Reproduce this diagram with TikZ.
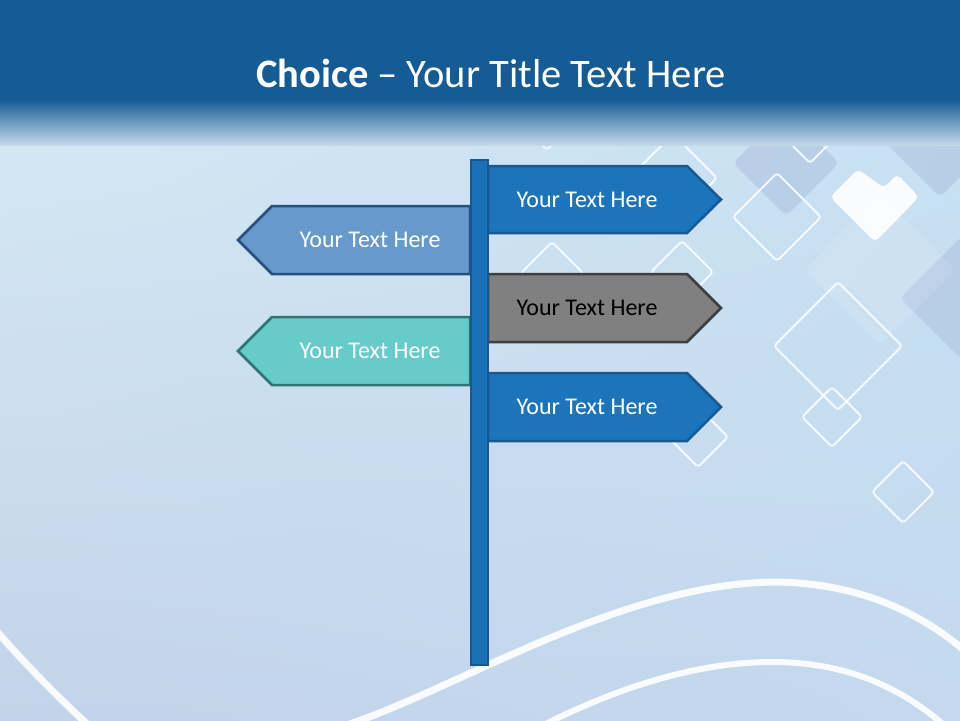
\documentclass[tikz,border=0pt]{standalone}
\usepackage{fontspec}
\setmainfont{Carlito}
\usetikzlibrary{shadings}

\definecolor{hdrblue}{HTML}{155C97}
\definecolor{hdrmid}{HTML}{5C8BBA}
\definecolor{hdrlow}{HTML}{C3D8E9}
\definecolor{bgul}{HTML}{D8ECF6}
\definecolor{bgur}{HTML}{C8E2F3}
\definecolor{bgll}{HTML}{C3D3E9}
\definecolor{bglr}{HTML}{C4D9EE}
\definecolor{tilegray}{HTML}{A7B9DA}
\definecolor{signblue}{HTML}{1C74BB}
\definecolor{signblueline}{HTML}{1A5890}
\definecolor{signlight}{HTML}{6699CC}
\definecolor{signlightline}{HTML}{23507D}
\definecolor{signteal}{HTML}{66CCCA}
\definecolor{signtealline}{HTML}{2D7472}
\definecolor{signgray}{HTML}{808080}
\definecolor{signgrayline}{HTML}{3E3E3E}
\definecolor{poleblue}{HTML}{1B70B8}
\definecolor{poleline}{HTML}{175792}

\begin{document}
\begin{tikzpicture}[x=1pt, y=-1pt,
    signtext/.style={font=\fontsize{24}{28}\selectfont, text=white, inner sep=0pt},
    bluesign/.style={fill=signblue, draw=signblueline, line width=2.5pt},
    lightsign/.style={fill=signlight, draw=signlightline, line width=2.5pt},
    tealsign/.style={fill=signteal, draw=signtealline, line width=2.5pt},
    graysign/.style={fill=signgray, draw=signgrayline, line width=2.5pt},
    tile/.style={draw=white, line width=1.8pt, rounded corners=3pt, opacity=0.85},
    filltile/.style={fill=tilegray, rounded corners=6pt, opacity=0.45},
    wave/.style={draw=white, line width=7pt, opacity=0.9}]

    \useasboundingbox (0,0) rectangle (960,720);

    % Background
    \shade[upper left=bgul, upper right=bgur, lower left=bgll, lower right=bglr] (0,0) rectangle (960,720);

    % Filled tiles
    \foreach \cx/\cy/\r in {786/163/53, 962/298/62, 940/130/67}
        \fill[filltile] (\cx-\r,\cy) -- (\cx,\cy-\r) -- (\cx+\r,\cy) -- (\cx,\cy+\r) -- cycle;
    \fill[white, opacity=0.1, rounded corners=6pt] (805,270) -- (880,195) -- (955,270) -- (880,345) -- cycle;
    \fill[white, opacity=0.9, rounded corners=5pt] (830,197) -- (858,169) -- (884,188) -- (897,174) -- (919,197) -- (875,242) -- cycle;

    % Outline tiles
    \foreach \cx/\cy/\r in {673/178/44, 777/217/44, 838/346/64, 832/417/30, 903/492/31,
                            698/437/30, 552/273/31, 682/272/31, 547/110/40, 810/120/43}
        \draw[tile] (\cx-\r,\cy) -- (\cx,\cy-\r) -- (\cx+\r,\cy) -- (\cx,\cy+\r) -- cycle;

    % Header
    \fill[hdrblue] (0,0) rectangle (960,100);
    \shade[top color=hdrblue, middle color=hdrmid, bottom color=hdrlow] (0,99.5) rectangle (960,145);
    \node[font=\fontsize{40.5}{48}\selectfont, text=white, inner sep=0pt] (title) at (491,73) {\textbf{Choice} -- Your Title Text Here};

    % Waves
    \draw[wave] (-30,600) .. controls (20,660) and (60,700) .. (110,745);
    \draw[wave] (330,730) .. controls (440,700) and (610,585) .. (772,582)
                          .. controls (860,582) and (930,615) .. (980,665);
    \draw[wave, line width=6pt] (480,760) .. controls (580,700) and (680,662) .. (772,662)
                          .. controls (850,662) and (910,690) .. (960,740);

    % Right signs
    \draw[bluesign] (488,166) -- (687,166) -- (721,199.5) -- (687,233) -- (488,233) -- cycle;
    \draw[graysign] (488,274) -- (687,274) -- (721,308) -- (687,342) -- (488,342) -- cycle;
    \draw[bluesign] (488,373) -- (687,373) -- (721,407) -- (687,441) -- (488,441) -- cycle;

    % Left signs
    \draw[lightsign] (470,206) -- (272,206) -- (238,240) -- (272,274) -- (470,274) -- cycle;
    \draw[tealsign] (470,317) -- (272,317) -- (238,351) -- (272,385) -- (470,385) -- cycle;

    % Pole
    \draw[fill=poleblue, draw=poleline, line width=1.5pt] (471,160) rectangle (488,665);

    % Sign texts
    \node[signtext] (r1) at (587,199.5) {Your Text Here};
    \node[signtext, text=black] (r2) at (587,308) {Your Text Here};
    \node[signtext] (r3) at (587,407) {Your Text Here};
    \node[signtext] (l1) at (370,240) {Your Text Here};
    \node[signtext] (l2) at (370,351) {Your Text Here};

\end{tikzpicture}
\end{document}
